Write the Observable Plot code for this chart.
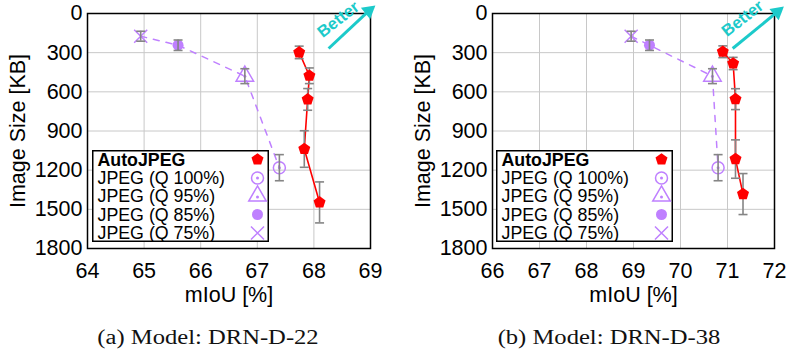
<!DOCTYPE html>
<html><head><meta charset="utf-8">
<script src="https://cdn.jsdelivr.net/npm/d3@7"></script>
<script src="https://cdn.jsdelivr.net/npm/@observablehq/plot@0.6"></script>
<style>
body{margin:0;background:#fff;}
#root{position:relative;width:790px;height:353px;overflow:hidden;font-family:"Liberation Sans",Arial,sans-serif;}
.panel{position:absolute;top:0;width:395px;height:310px;}
.legend{position:absolute;}
.caption{position:absolute;top:326px;width:300px;text-align:center;font-family:"Liberation Serif","Times New Roman",serif;font-size:20.5px;color:#111;transform:scaleX(1.2);white-space:nowrap;}
</style>
</head><body><div id="root"></div>
<script>
// ---- data ----
const yTicks = [0, 300, 600, 900, 1200, 1500, 1800];
const xTicksA = [64, 65, 66, 67, 68, 69];
const xTicksB = [66, 67, 68, 69, 70, 71, 72];

const autoSizeA = [298, 477, 658, 1038, 1447];
const autoMiouA = [67.74, 67.92, 67.89, 67.83, 68.10];
const autoErrA = [48, 60, 83, 140, 157];

const autoSizeB = [293, 383, 656, 1115, 1383];
const autoMiouB = [70.90, 71.12, 71.17, 71.17, 71.33];
const autoErrB = [45, 47, 80, 147, 157];

const jpegQuality = ["Q 75%", "Q 85%", "Q 95%", "Q 100%"];
const jpegSize = [174, 243, 480, 1181];
const jpegErr = [38, 40, 57, 100];
const jpegMiouA = [64.94, 65.60, 66.78, 67.39];
const jpegMiouB = [68.95, 69.34, 70.68, 70.80];

const legendLabels = ["AutoJPEG", "JPEG (Q 100%)", "JPEG (Q 95%)", "JPEG (Q 85%)", "JPEG (Q 75%)"];
const captions = ["(a) Model: DRN-D-22", "(b) Model: DRN-D-38"];
// "Better" arrow annotation (data units): start, tip, text position
const betterA = {x1: 68.26, y1: 268, x2: 68.97, y2: -20, tx: 68.43, ty: 46};
const betterB = {x1: 71.11, y1: 268, x2: 72.06, y2: -12, tx: 71.32, ty: 38};

// ---- styles ----
const purple = "#bf80ff", red = "#ff0000", gray = "#858585", cyan = "#1ccaca", gridC = "#c8c8c8";

const capSymbol = {draw(ctx, size){ const r = Math.sqrt(size/Math.PI); ctx.moveTo(-r,0); ctx.lineTo(r,0);} };
const pentagon = {draw(ctx, size){ const r = Math.sqrt(size/Math.PI); for(let i=0;i<5;i++){const a=-Math.PI/2+i*2*Math.PI/5; const px=r*Math.cos(a), py=r*Math.sin(a); if(i===0) ctx.moveTo(px,py); else ctx.lineTo(px,py);} ctx.closePath(); } };

function makePanel(cfg){
  const auto = cfg.autoSize.map((s,i)=>({size:s, miou:cfg.autoMiou[i], err:cfg.autoErr[i]}));
  const jpeg = jpegSize.map((s,i)=>({size:s, miou:cfg.jpegMiou[i], err:jpegErr[i], q:jpegQuality[i]}));
  const all = [...jpeg, ...auto];
  const bt = cfg.better;
  return Plot.plot({
    width: 395, height: 310,
    marginLeft: cfg.ml, marginRight: cfg.mr, marginTop: 13, marginBottom: 62,
    style: {fontFamily: "'Liberation Sans', Arial, sans-serif", fontSize: "21px", color: "#000", background: "transparent", overflow: "visible"},
    x: {domain: cfg.xDomain},
    y: {domain: [0, 1800], reverse: true},
    marks: [
      Plot.ruleX(cfg.xTicks, {stroke: gridC, strokeWidth: 1}),
      Plot.ruleY(yTicks, {stroke: gridC, strokeWidth: 1}),
      Plot.axisX({ticks: cfg.xTicks, tickSize: 0, tickPadding: 14, fontSize: 21.5, tickFormat: d => String(d), label: "mIoU [%]", labelAnchor: "center", labelOffset: 53, labelArrow: "none"}),
      Plot.axisY({ticks: yTicks, tickSize: 0, tickPadding: 5, fontSize: 21.5, tickFormat: d => String(d), label: "Image Size [KB]", labelAnchor: "center", labelOffset: 78, labelArrow: "none"}),
      Plot.line(jpeg, {x: "miou", y: "size", stroke: purple, strokeWidth: 1.5, strokeDasharray: "6,7"}),
      Plot.line(auto, {x: "miou", y: "size", stroke: red, strokeWidth: 1.6}),
      // markers JPEG
      Plot.dot(jpeg.filter(d=>d.q==="Q 75%"), {x:"miou", y:"size", symbol:"times", r:6, stroke:purple, strokeWidth:1.5}),
      Plot.dot(jpeg.filter(d=>d.q==="Q 85%"), {x:"miou", y:"size", symbol:"circle", r:5.5, fill:purple}),
      Plot.dot(jpeg.filter(d=>d.q==="Q 95%"), {x:"miou", y:"size", symbol:"triangle", r:6.5, stroke:purple, strokeWidth:1.5}),
      Plot.dot(jpeg.filter(d=>d.q==="Q 100%"), {x:"miou", y:"size", symbol:"circle", r:6, stroke:purple, strokeWidth:1.5}),
      Plot.dot(jpeg.filter(d=>d.q==="Q 100%" || d.q==="Q 95%"), {x:"miou", y:"size", symbol:"circle", r:1.5, fill:purple}),
      // error bars
      Plot.ruleX(all, {x:"miou", y1: d=>d.size-d.err, y2: d=>d.size+d.err, stroke: gray, strokeWidth: 1.6}),
      Plot.dot(all, {x:"miou", y: d=>d.size-d.err, symbol: capSymbol, r: 4.5, stroke: gray, strokeWidth: 1.6}),
      Plot.dot(all, {x:"miou", y: d=>d.size+d.err, symbol: capSymbol, r: 4.5, stroke: gray, strokeWidth: 1.6}),
      // AutoJPEG markers
      Plot.dot(auto, {x:"miou", y:"size", symbol: pentagon, r: 6.3, fill: red}),
      Plot.frame({stroke: "#000", strokeWidth: 1.5}),
      // Better arrow
      Plot.link([bt], {x1:"x1", y1:"y1", x2:"x2", y2:"y2", stroke: cyan, strokeWidth: 3}),
      Plot.dot([bt], {x:"x2", y:"y2", symbol:"triangle2", r: 7, fill: cyan, rotate: 51}),
      Plot.text([bt], {x:"tx", y:"ty", text: ()=>"Better", rotate: -38, fill: cyan, fontWeight: "bold", fontSize: 16.5})
    ]
  });
}

function makeLegend(){
  const w = 177, h = 92;
  const svg = d3.create("svg").attr("width", w).attr("height", h);
  svg.append("rect").attr("x",0.75).attr("y",0.75).attr("width",w-1.5).attr("height",h-1.5).attr("fill","#fff").attr("stroke","#000").attr("stroke-width",1.5);
  const rowY = [9.5, 28, 46, 64.5, 83];
  const sx = 165.5;
  legendLabels.forEach((t,i)=>{
    svg.append("text").attr("x",5.5).attr("y",rowY[i]).attr("dy","0.36em")
      .attr("font-family","'Liberation Sans', Arial, sans-serif").attr("font-size", "17.8px")
      .attr("font-weight", i===0 ? "bold" : "normal").attr("fill","#000").text(t);
  });
  const g = svg.append("g");
  const sym = (type, r) => d3.symbol(type, r*r*Math.PI)();
  g.append("path").attr("transform",`translate(${sx},${rowY[0]})`).attr("d", sym(pentagon, 6.3)).attr("fill", red);
  g.append("path").attr("transform",`translate(${sx},${rowY[1]})`).attr("d", sym(d3.symbolCircle, 6)).attr("fill","none").attr("stroke",purple).attr("stroke-width",1.5);
  g.append("path").attr("transform",`translate(${sx},${rowY[1]})`).attr("d", sym(d3.symbolCircle, 1.5)).attr("fill",purple);
  g.append("path").attr("transform",`translate(${sx},${rowY[2]})`).attr("d", sym(d3.symbolTriangle, 6.5)).attr("fill","none").attr("stroke",purple).attr("stroke-width",1.5);
  g.append("path").attr("transform",`translate(${sx},${rowY[2]+1})`).attr("d", sym(d3.symbolCircle, 1.5)).attr("fill",purple);
  g.append("path").attr("transform",`translate(${sx},${rowY[3]})`).attr("d", sym(d3.symbolCircle, 5.5)).attr("fill",purple);
  g.append("path").attr("transform",`translate(${sx},${rowY[4]})`).attr("d", sym(d3.symbolTimes, 6)).attr("fill","none").attr("stroke",purple).attr("stroke-width",1.5);
  return svg.node();
}

const root = document.getElementById("root");
const panels = [
  {left: 0, ml: 87, mr: 25, xDomain: [64, 69], xTicks: xTicksA, autoSize: autoSizeA, autoMiou: autoMiouA, autoErr: autoErrA, jpegMiou: jpegMiouA, better: betterA, legX: 92, capX: 207.5},
  {left: 395, ml: 97, mr: 16, xDomain: [66, 72], xTicks: xTicksB, autoSize: autoSizeB, autoMiou: autoMiouB, autoErr: autoErrB, jpegMiou: jpegMiouB, better: betterB, legX: 101, capX: 213.5}
];
panels.forEach((p, i) => {
  const div = document.createElement("div");
  div.className = "panel";
  div.style.left = p.left + "px";
  div.appendChild(makePanel(p));
  const leg = document.createElement("div");
  leg.className = "legend";
  leg.style.left = p.legX + "px";
  leg.style.top = "150px";
  leg.appendChild(makeLegend());
  div.appendChild(leg);
  root.appendChild(div);
  const cap = document.createElement("div");
  cap.className = "caption";
  cap.style.left = (p.left + p.capX - 150) + "px";
  cap.textContent = captions[i];
  root.appendChild(cap);
});
</script>
</body></html>
